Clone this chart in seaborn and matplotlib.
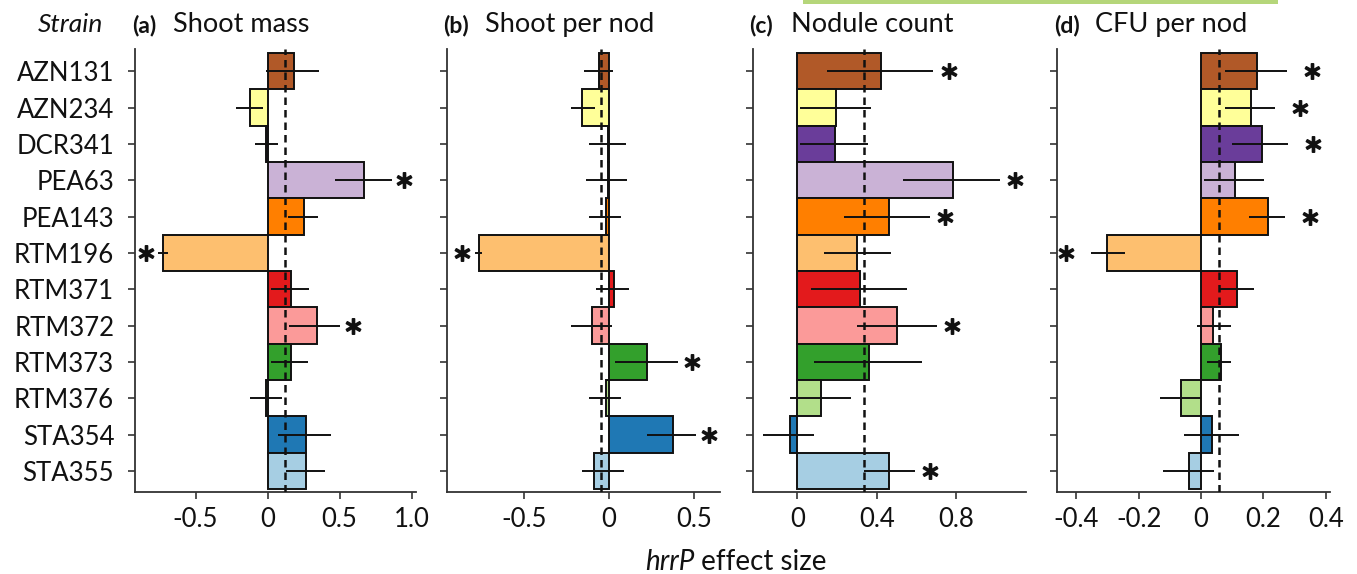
import numpy as np
import matplotlib
matplotlib.use("Agg")
import matplotlib.pyplot as plt
import seaborn as sns
from matplotlib.transforms import offset_copy
from matplotlib.patches import Rectangle

# Data
strains = ["AZN131", "AZN234", "DCR341", "PEA63", "PEA143", "RTM196",
           "RTM371", "RTM372", "RTM373", "RTM376", "STA354", "STA355"]

# (a) Shoot mass
shoot_mass = [0.185, -0.125, -0.01, 0.667, 0.25, -0.727, 0.165, 0.345, 0.165, -0.01, 0.264, 0.264]
shoot_mass_lo = [-0.01, -0.22, -0.09, 0.465, 0.14, -0.76, 0.025, 0.15, 0.025, -0.125, 0.07, 0.13]
shoot_mass_hi = [0.36, -0.03, 0.07, 0.86, 0.35, -0.69, 0.29, 0.505, 0.28, 0.10, 0.44, 0.40]
shoot_mass_sig = [0, 0, 0, 1, 0, 1, 0, 1, 0, 0, 0, 0]
shoot_mass_mean = 0.12

# (b) Shoot per nod
shoot_nod = [-0.059, -0.157, -0.005, -0.005, -0.02, -0.763, 0.027, -0.098, 0.222, -0.02, 0.375, -0.088]
shoot_nod_lo = [-0.147, -0.225, -0.118, -0.137, -0.118, -0.79, -0.078, -0.225, 0.035, -0.118, 0.225, -0.157]
shoot_nod_hi = [0.022, -0.08, 0.098, 0.108, 0.069, -0.745, 0.118, 0.02, 0.408, 0.069, 0.51, 0.088]
shoot_nod_sig = [0, 0, 0, 0, 0, 1, 0, 0, 1, 0, 1, 0]
shoot_nod_mean = -0.05

# (c) Nodule count
nod_count = [0.42, 0.195, 0.188, 0.782, 0.46, 0.30, 0.317, 0.50, 0.359, 0.121, -0.037, 0.46]
nod_count_lo = [0.151, 0.014, 0.014, 0.53, 0.236, 0.136, 0.069, 0.299, 0.084, -0.037, -0.171, 0.336]
nod_count_hi = [0.684, 0.371, 0.354, 1.02, 0.668, 0.47, 0.553, 0.701, 0.627, 0.272, 0.084, 0.59]
nod_count_sig = [1, 0, 0, 1, 1, 0, 0, 1, 0, 0, 0, 1]
nod_count_mean = 0.336

# (d) CFU per nod
cfu_nod = [0.179, 0.16, 0.195, 0.109, 0.216, -0.30, 0.115, 0.04, 0.063, -0.064, 0.036, -0.037]
cfu_nod_lo = [0.077, 0.077, 0.098, 0.01, 0.155, -0.353, 0.058, -0.012, 0.02, -0.13, -0.055, -0.123]
cfu_nod_hi = [0.275, 0.238, 0.28, 0.202, 0.27, -0.244, 0.17, 0.096, 0.096, -0.001, 0.122, 0.042]
cfu_nod_sig = [1, 1, 1, 0, 1, 1, 0, 0, 0, 0, 0, 0]
cfu_nod_mean = 0.058

colors = list(reversed(sns.color_palette("Paired", 12)))

sns.set_style("ticks")
plt.rcParams['font.family'] = ['Lato', 'DejaVu Sans']
plt.rcParams['font.size'] = 18

fig = plt.figure(figsize=(13.57, 5.74), dpi=100)

panels = [
    ("(a)", "Shoot mass", shoot_mass, shoot_mass_lo, shoot_mass_hi, shoot_mass_sig, shoot_mass_mean,
     (-0.92, 1.03), [-0.5, 0, 0.5, 1.0], ["-0.5", "0", "0.5", "1.0"], 135, 281, 9),
    ("(b)", "Shoot per nod", shoot_nod, shoot_nod_lo, shoot_nod_hi, shoot_nod_sig, shoot_nod_mean,
     (-0.955, 0.653), [-0.5, 0, 0.5], ["-0.5", "0", "0.5"], 446.7, 273.3, 9.5),
    ("(c)", "Nodule count", nod_count, nod_count_lo, nod_count_hi, nod_count_sig, nod_count_mean,
     (-0.224, 1.15), [0, 0.4, 0.8], ["0", "0.4", "0.8"], 752.7, 273.3, 11),
    ("(d)", "CFU per nod", cfu_nod, cfu_nod_lo, cfu_nod_hi, cfu_nod_sig, cfu_nod_mean,
     (-0.461, 0.414), [-0.4, -0.2, 0, 0.2, 0.4], ["-0.4", "-0.2", "0", "0.2", "0.4"], 1057.3, 272.7, 18),
]

W, H = 1357, 574
top_px, bot_px = 49, 492

for i, (tag, title, vals, lo, hi, sig, mean, xlim, xt, xtl, left_px, w_px, star_off) in enumerate(panels):
    ax = fig.add_axes([left_px / W, 1 - bot_px / H, w_px / W, (bot_px - top_px) / H])
    sns.barplot(x=vals, y=strains, hue=strains, palette=colors, orient='h', width=1.0,
                saturation=1, edgecolor='#111111', linewidth=1.4, legend=False, ax=ax, zorder=2)
    ypos = np.arange(len(strains))
    ax.hlines(ypos, lo, hi, color='#111111', lw=1.4, zorder=3)
    ax.axvline(mean, color='#111111', ls=(0, (3, 2)), lw=1.8, zorder=4)

    # significance stars beyond the CI end
    for y, s, l, h, v in zip(ypos, sig, lo, hi, vals):
        if not s:
            continue
        if v >= 0:
            tr = offset_copy(ax.transData, fig=fig, x=star_off, units='points')
            ax.plot(h, y, marker=r'$\ast$', ms=11, color='#111111', mew=1.2, transform=tr, clip_on=False)
        else:
            tr = offset_copy(ax.transData, fig=fig, x=-star_off, units='points')
            ax.plot(l, y, marker=r'$\ast$', ms=11, color='#111111', mew=1.2, transform=tr, clip_on=False)

    ax.set_xlim(*xlim)
    ax.set_ylim(11.58, -0.61)
    ax.set_xticks(xt)
    ax.set_xticklabels(xtl)
    ax.set_xlabel("")
    ax.set_ylabel("")
    sns.despine(ax=ax)
    for sp in ["left", "bottom"]:
        ax.spines[sp].set_linewidth(1.3)
        ax.spines[sp].set_color("#333333")
    ax.tick_params(axis='both', length=5, width=1.2, color='#333333', labelsize=18.5,
                   labelcolor='#111111')
    ax.tick_params(axis='x', pad=6)
    ax.tick_params(axis='y', pad=10)
    if i > 0:
        ax.set_yticklabels([])
    else:
        ax.annotate("Strain", xy=(0, 1), xycoords='axes fraction', xytext=(-22.8, 12.2),
                    textcoords='offset points', ha='right', va='baseline', style='italic',
                    fontsize=19, color='#111111')

    ax.annotate(tag, xy=(0, 1), xycoords='axes fraction', xytext=(-2.4, 12.2),
                textcoords='offset points', ha='left', va='baseline', fontweight='bold',
                fontsize=16.5, color='#111111')
    ax.annotate(title, xy=(0, 1), xycoords='axes fraction', xytext=(27.5, 12.2),
                textcoords='offset points', ha='left', va='baseline', fontsize=19.5, color='#111111')

# shared x label with italic gene name
t1 = fig.text(645 / W, 1 - 570 / H, "hrrP", style='italic', fontsize=20, ha='left',
              va='baseline', color='#111111')
plt.gca().annotate(" effect size", xy=(1, 0), xycoords=t1, ha='left', va='bottom',
                   fontsize=20, color='#111111')

# light green strip at the top edge
fig.add_artist(Rectangle((803 / W, 1 - 4.3 / H), (1278 - 803) / W, 4.3 / H,
                         transform=fig.transFigure, color='#b5d67a', lw=0))

fig.savefig("out.png", dpi=100)
plt.close(fig)
